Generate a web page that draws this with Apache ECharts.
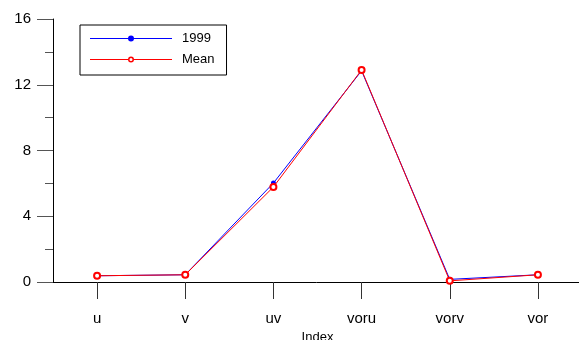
<!DOCTYPE html>
<html><head><meta charset="utf-8">
<script src="https://cdn.jsdelivr.net/npm/echarts@6/dist/echarts.min.js"></script>
<style>html,body{margin:0;padding:0;background:#fff}#c{width:579px;height:340px}</style>
</head><body><div id="c"></div>
<script>
const categories = ['u', 'v', 'uv', 'voru', 'vorv', 'vor'];
const series1999 = [0.38, 0.44, 6.02, 12.85, 0.16, 0.44];
const seriesMean = [0.38, 0.44, 5.78, 12.9, 0.07, 0.44];
const yTicks = [0, 4, 8, 12, 16];

// legend key glyphs: thin line with a dot (1999) or a ring (Mean) in the middle
const iconDot = 'path://M0,2.5L82,2.5L82,3.5L0,3.5Z M38,3A3,3 0 1,1 44,3A3,3 0 1,1 38,3Z';
const iconRing = 'path://M0,2.5L38,2.5L38,3.5L0,3.5Z M44,2.5L82,2.5L82,3.5L44,3.5Z M38,3A3,3 0 1,1 44,3A3,3 0 1,1 38,3Z M39.5,3A1.5,1.5 0 1,0 42.5,3A1.5,1.5 0 1,0 39.5,3Z';

const chart = echarts.init(document.getElementById('c'), null, {renderer: 'canvas'});
const font = '"Liberation Sans", Arial, sans-serif';
chart.setOption({
  animation: false,
  backgroundColor: '#fff',
  grid: {left: 53, top: 19, width: 529, bottom: 58, containLabel: false, outerBoundsMode: 'none'},
  legend: {
    orient: 'vertical', left: 80, top: 25,
    itemWidth: 82, itemHeight: 6, itemGap: 8,
    padding: [7, 12, 9, 10],
    borderColor: '#000', borderWidth: 1,
    itemStyle: {borderWidth: 0},
    textStyle: {fontFamily: font, fontSize: 13, color: '#000', padding: [0, 0, 0, 5]},
    data: [
      {name: '1999', icon: iconDot, itemStyle: {color: '#0000ff', borderWidth: 0}},
      {name: 'Mean', icon: iconRing, itemStyle: {color: '#ff0000', borderWidth: 0}}
    ]
  },
  xAxis: {
    type: 'category', data: categories, boundaryGap: true,
    axisLine: {lineStyle: {color: '#000', width: 1}},
    axisTick: {show: true, alignWithLabel: true, inside: false, length: 17, lineStyle: {color: '#333'}},
    axisLabel: {fontFamily: font, fontSize: 15, color: '#000', margin: 29},
    name: 'Index', nameLocation: 'middle', nameGap: 48,
    nameTextStyle: {fontFamily: font, fontSize: 13, color: '#000'},
    splitLine: {show: false}
  },
  yAxis: {
    type: 'value', min: yTicks[0], max: yTicks[yTicks.length - 1], interval: 4,
    axisLine: {show: true, lineStyle: {color: '#000', width: 1}},
    axisTick: {show: true, length: 16, lineStyle: {color: '#555'}},
    minorTick: {show: true, splitNumber: 2, length: 8, lineStyle: {color: '#555'}},
    axisLabel: {fontFamily: font, fontSize: 15, color: '#000', margin: 22},
    splitLine: {show: false}
  },
  series: [
    {
      name: '1999', type: 'line', data: series1999,
      symbol: 'circle', symbolSize: 5,
      lineStyle: {color: '#0000ff', width: 1},
      itemStyle: {color: '#0000ff'},
      z: 2
    },
    {
      name: 'Mean', type: 'line', data: seriesMean,
      symbol: 'emptyCircle', symbolSize: 6,
      lineStyle: {color: '#ff0000', width: 1},
      itemStyle: {color: '#ff0000', borderColor: '#ff0000', borderWidth: 2},
      z: 3
    }
  ]
});
</script></body></html>
